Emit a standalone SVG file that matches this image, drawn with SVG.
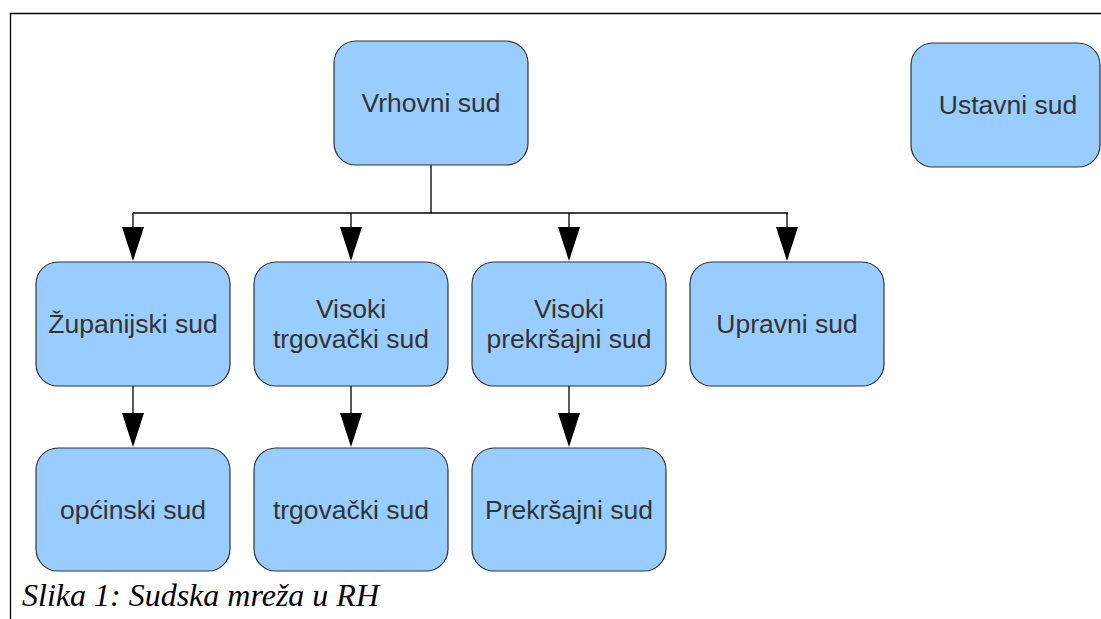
<svg xmlns="http://www.w3.org/2000/svg" width="1101" height="619" viewBox="0 0 1101 619">
  <style>
    .node rect { fill: #99ccff; stroke: #333333; stroke-width: 1.2; }
    .node text { font-family: "Liberation Sans", Arial, sans-serif; font-size: 26.5px; fill: #333333; text-anchor: middle; }
    .conn { fill: none; stroke: #000000; stroke-width: 1.3; }
    .head { fill: #000000; }
    .caption { font-family: "Liberation Serif", "Times New Roman", serif; font-style: italic; font-size: 32px; fill: #000000; }
  </style>

  <rect x="0" y="0" width="1101" height="619" fill="#ffffff"/>
  <!-- frame -->
  <path d="M10.5,619 L10.5,13.5 L1101,13.5" fill="none" stroke="#000000" stroke-width="1.3"/>

  <!-- connectors -->
  <g id="connectors">
    <path class="conn" d="M431,165 L431,213 M133,213 L788,213"/>
    <path class="conn" d="M133,213 L133,228"/>
    <path class="head" d="M122,227 L144,227 L133,261 Z"/>
    <path class="conn" d="M351,213 L351,228"/>
    <path class="head" d="M340,227 L362,227 L351,261 Z"/>
    <path class="conn" d="M569,213 L569,228"/>
    <path class="head" d="M558,227 L580,227 L569,261 Z"/>
    <path class="conn" d="M787,213 L787,228"/>
    <path class="head" d="M776,227 L798,227 L787,261 Z"/>

    <path class="conn" d="M133,386 L133,414"/>
    <path class="head" d="M122,413 L144,413 L133,447 Z"/>
    <path class="conn" d="M351,386 L351,414"/>
    <path class="head" d="M340,413 L362,413 L351,447 Z"/>
    <path class="conn" d="M569,386 L569,414"/>
    <path class="head" d="M558,413 L580,413 L569,447 Z"/>
  </g>

  <g id="vrhovni" class="node">
    <rect x="334" y="41" width="194" height="124" rx="22"/>
    <text x="431" y="112">Vrhovni sud</text>
  </g>
  <g id="ustavni" class="node">
    <rect x="911" y="43" width="189" height="124" rx="22"/>
    <text x="1008" y="114">Ustavni sud</text>
  </g>

  <g id="zupanijski" class="node">
    <rect x="36" y="262" width="194" height="124" rx="22"/>
    <text x="133" y="333">Županijski sud</text>
  </g>
  <g id="visoki-trgovacki" class="node">
    <rect x="254" y="262" width="194" height="124" rx="22"/>
    <text x="351" y="318">Visoki</text>
    <text x="351" y="348">trgovački sud</text>
  </g>
  <g id="visoki-prekrsajni" class="node">
    <rect x="472" y="262" width="194" height="124" rx="22"/>
    <text x="569" y="318">Visoki</text>
    <text x="569" y="348">prekršajni sud</text>
  </g>
  <g id="upravni" class="node">
    <rect x="690" y="262" width="194" height="124" rx="22"/>
    <text x="787" y="333">Upravni sud</text>
  </g>

  <g id="opcinski" class="node">
    <rect x="36" y="448" width="194" height="123" rx="22"/>
    <text x="133" y="519">općinski sud</text>
  </g>
  <g id="trgovacki" class="node">
    <rect x="254" y="448" width="194" height="123" rx="22"/>
    <text x="351" y="519">trgovački sud</text>
  </g>
  <g id="prekrsajni" class="node">
    <rect x="472" y="448" width="194" height="123" rx="22"/>
    <text x="569" y="519">Prekršajni sud</text>
  </g>

  <text class="caption" x="22" y="606">Slika 1: Sudska mreža u RH</text>
</svg>
